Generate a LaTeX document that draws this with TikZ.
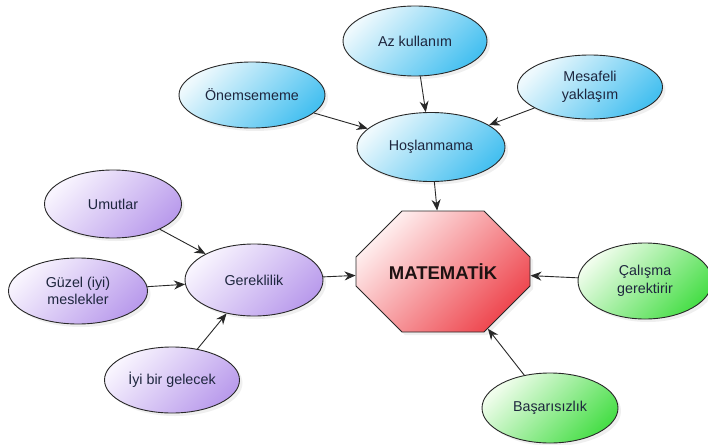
\documentclass[tikz,border=0pt]{standalone}
\usepackage{fontspec}
\setmainfont{Liberation Sans}
\usetikzlibrary{shapes.geometric,shapes.misc,arrows.meta,shadows}
\definecolor{bluelight}{RGB}{238,249,253}
\definecolor{bluedark}{RGB}{70,192,240}
\definecolor{purplelight}{RGB}{248,244,254}
\definecolor{purpledark}{RGB}{186,156,236}
\definecolor{greenlight}{RGB}{240,253,236}
\definecolor{greendark}{RGB}{72,222,72}
\definecolor{redlight}{RGB}{255,240,240}
\definecolor{reddark}{RGB}{238,70,78}
\definecolor{txt}{RGB}{30,38,62}
\definecolor{edgec}{RGB}{40,40,40}
\tikzset{
  bubble/.style={ellipse, draw=edgec, line width=0.9pt, text=txt,
    font=\fontsize{14.3}{17.5}\selectfont, align=center, inner sep=0pt,
    drop shadow={opacity=0.12, shadow xshift=3pt, shadow yshift=-3pt}},
  blueb/.style={bubble, top color=bluelight, middle color=bluelight!55!bluedark, bottom color=bluedark, shading angle=45},
  purpleb/.style={bubble, top color=purplelight, middle color=purplelight!55!purpledark, bottom color=purpledark, shading angle=45},
  greenb/.style={bubble, top color=greenlight, middle color=greenlight!55!greendark, bottom color=greendark, shading angle=45},
  octbox/.style={chamfered rectangle, draw=edgec, line width=0.9pt,
    chamfered rectangle xsep=52pt, chamfered rectangle ysep=38pt,
    minimum width=174pt, minimum height=121pt, inner sep=0pt,
    top color=redlight, middle color=redlight!50!reddark, bottom color=reddark, shading angle=45,
    font=\fontsize{18.5}{20}\selectfont\bfseries, text={rgb,255:red,30;green,18;blue,18},
    drop shadow={opacity=0.12, shadow xshift=3pt, shadow yshift=-3pt}},
  arr/.style={draw=edgec, line width=0.9pt, -{Stealth[length=11pt,width=9pt]}}
}
\begin{document}
\begin{tikzpicture}[x=1pt,y=-1pt]
\useasboundingbox[fill=white] (0,0) rectangle (708,444);
\node[blueb, minimum width=144pt, minimum height=70pt] (az) at (415,41) {Az kullanım};
\node[blueb, minimum width=146pt, minimum height=66pt] (on) at (252,95) {Önemsememe};
\node[blueb, minimum width=145pt, minimum height=64pt] (mes) at (590,87) {Mesafeli\\yaklaşım};
\node[blueb, minimum width=148pt, minimum height=69pt] (hos) at (431,147) {Hoşlanmama};
\node[purpleb, minimum width=137pt, minimum height=68pt] (um) at (113,204) {Umutlar};
\node[purpleb, minimum width=138pt, minimum height=72pt] (ger) at (254,280) {Gereklilik};
\node[purpleb, minimum width=139pt, minimum height=66pt] (guz) at (78,291) {Güzel (iyi)\\meslekler};
\node[purpleb, minimum width=135pt, minimum height=66pt] (iyi) at (172,380) {İyi bir gelecek};
\node[greenb, minimum width=134pt, minimum height=76pt] (cal) at (645,281) {Çalışma\\gerektirir};
\node[greenb, minimum width=136pt, minimum height=70pt] (bas) at (550,408) {Başarısızlık};
\node[octbox] (mat) at (443,271.5) {MATEMATİK};
\draw[arr] (az) -- (hos);
\draw[arr] (on) -- (hos);
\draw[arr] (mes) -- (hos);
\draw[arr] (hos) -- (mat);
\draw[arr] (um) -- (ger);
\draw[arr] (guz) -- (ger);
\draw[arr] (iyi) -- (ger);
\draw[arr] (ger) -- (mat);
\draw[arr] (cal) -- (mat);
\draw[arr] (bas) -- (mat);
\end{tikzpicture}
\end{document}
